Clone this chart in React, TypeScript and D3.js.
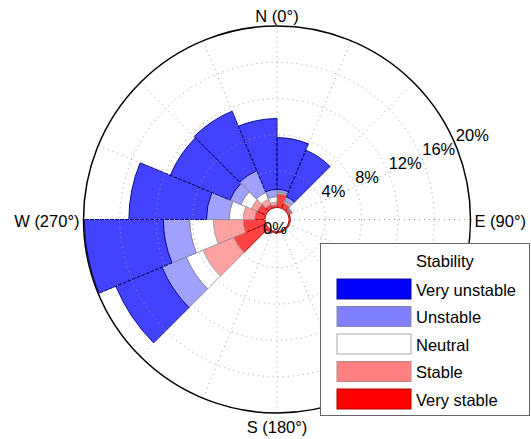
import React from 'react';
import * as d3 from 'd3';

// direction bins (start angle, degrees clockwise from north)
const binStarts = [0, 22.5, 45, 67.5, 90, 112.5, 135, 157.5, 180, 202.5, 225, 247.5, 270, 292.5, 315, 337.5];
const binWidth = 22.5;

// frequency (%) of each stability class per direction bin
const veryStable = [1.5, 0.6, 0.3, 0.15, 0.15, 0.15, 0.15, 0.15, 0.15, 0.3, 3.8, 2.4, 1.1, 1.0, 0.45, 0.25];
const stable = [0.1, 0.2, 0.1, 0, 0, 0, 0, 0, 0, 0.1, 3.7, 3.3, 1.3, 0.75, 0.65, 0.35];
const neutral = [0.1, 0.1, 0, 0, 0, 0, 0, 0, 0, 0, 2.0, 2.6, 1.55, 1.25, 0.8, 0.6];
const unstable = [0.3, 0.5, 0.1, 0, 0, 0, 0, 0, 0, 0, 2.9, 2.9, 2.5, 1.3, 2.6, 0.8];
const veryUnstable = [5.7, 5.55, 0, 0, 0, 0, 0, 0, 0, 0, 5.5, 8.7, 8.55, 7.1, 7.1, 7.8];

const ringTicks = [4, 8, 12, 16, 20];
const maxFreq = 20;

// stacked from the centre outwards
const classes = [
  { name: 'Very stable', values: veryStable, fill: '#ff0000', edge: '#b00000' },
  { name: 'Stable', values: stable, fill: '#ff8080', edge: '#bb8888' },
  { name: 'Neutral', values: neutral, fill: '#ffffff', edge: '#aaaaaa' },
  { name: 'Unstable', values: unstable, fill: '#8080ff', edge: '#8888aa' },
  { name: 'Very unstable', values: veryUnstable, fill: '#0000ff', edge: '#0a0a90' },
];

const legendOrder = [...classes].reverse();

const cx = 277;
const cy = 219.5;
const R = 193.5;
const r0 = 12;
const font = '"Liberation Sans", Arial, Helvetica, sans-serif';

export default function App() {
  const rScale = d3.scaleLinear().domain([0, maxFreq]).range([r0, R]);
  const toRad = (deg: number) => (deg * Math.PI) / 180;

  // cumulative stacking per bin
  const sectors: { d: string; fill: string; edge: string }[] = [];
  binStarts.forEach((start, i) => {
    let acc = 0;
    classes.forEach(c => {
      const v = c.values[i];
      if (v <= 0) return;
      const path = d3.arc()({
        innerRadius: rScale(acc),
        outerRadius: rScale(acc + v),
        startAngle: toRad(start),
        endAngle: toRad(start + binWidth),
      }) as string;
      sectors.push({ d: path, fill: c.fill, edge: c.edge });
      acc += v;
    });
  });

  const spokes = binStarts.map(a => {
    const t = toRad(a);
    return {
      x1: cx + r0 * Math.sin(t),
      y1: cy - r0 * Math.cos(t),
      x2: cx + R * Math.sin(t),
      y2: cy - R * Math.cos(t),
    };
  });

  const labelAngle = toRad(67.5);

  const lx = 320.5;
  const ly = 243.5;

  return (
    <div style={{ position: 'absolute', left: 0, top: 0 }}>
      <svg width={531} height={439} style={{ display: 'block', background: '#fff' }} fontFamily={font}>
        <g>
          {sectors.map((s, i) => (
            <path
              key={i}
              d={s.d}
              transform={`translate(${cx},${cy})`}
              fill={s.fill}
              fillOpacity={0.74}
              stroke={s.edge}
              strokeWidth={1}
            />
          ))}
        </g>
        {/* grid on top of the bars */}
        <g stroke="#9a9a9a" strokeWidth={1} strokeDasharray="1 4" fill="none">
          {ringTicks.slice(0, -1).map(t => (
            <circle key={t} cx={cx} cy={cy} r={rScale(t)} />
          ))}
          {spokes.map((s, i) => (
            <line key={i} x1={s.x1} y1={s.y1} x2={s.x2} y2={s.y2} />
          ))}
        </g>
        <circle cx={cx} cy={cy} r={R} fill="none" stroke="#000" strokeWidth={1.5} />

        {ringTicks.map(t => {
          const r = rScale(t);
          return (
            <text key={t} x={cx + r * Math.sin(labelAngle)} y={cy - r * Math.cos(labelAngle) - 4} fontSize={16.5}>
              {t}%
            </text>
          );
        })}
        <text x={275} y={234} fontSize={16.5} textAnchor="middle">0%</text>

        <text x={cx} y={21.7} fontSize={16.5} textAnchor="middle">N (0°)</text>
        <text x={cx} y={433} fontSize={16.5} textAnchor="middle">S (180°)</text>
        <text x={cx + R + 4} y={227} fontSize={16.5}>E (90°)</text>
        <text x={cx - R - 4} y={227} fontSize={16.5} textAnchor="end">W (270°)</text>

        <g>
          <rect x={lx} y={ly} width={209} height={172} fill="#fff" stroke="#666" strokeWidth={1} />
          <text x={416} y={267} fontSize={16.5}>Stability</text>
          {legendOrder.map((c, i) => (
            <g key={c.name}>
              <rect x={337} y={279 + i * 27.5} width={74} height={20} fill={c.fill} stroke={c.edge} strokeWidth={1} />
              <text x={416} y={279 + i * 27.5 + 16.5} fontSize={16.5}>{c.name}</text>
            </g>
          ))}
        </g>
      </svg>
    </div>
  );
}
